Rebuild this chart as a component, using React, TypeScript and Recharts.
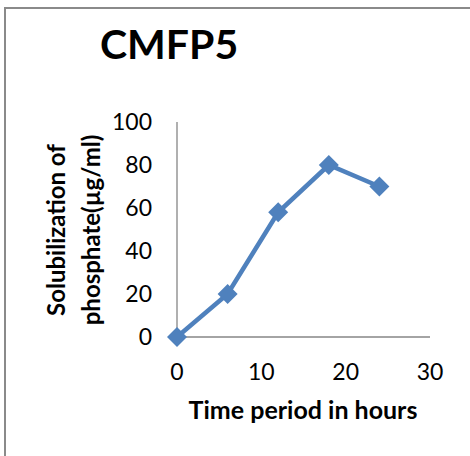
import { Line, LineChart, XAxis, YAxis, Label } from "recharts";

const hours = [0, 6, 12, 18, 24];
const solubilization = [0, 20, 58, 80, 70];
const xTicks = [0, 10, 20, 30];
const yTicks = [0, 20, 40, 60, 80, 100];

const data = hours.map((h, i) => ({ hour: h, value: solubilization[i] }));

const BLUE = "#4F81BD";
const AXIS = "#868686";
const FONT = "Lato, 'Open Sans', sans-serif";

// diamond marker like Excel's
const Diamond = (p: any) => {
  const { cx, cy, index } = p;
  if (cx == null || cy == null) return <g key={index} />;
  const r = 10;
  return (
    <polygon
      key={index}
      points={`${cx},${cy - r} ${cx + r},${cy} ${cx},${cy + r} ${cx - r},${cy}`}
      fill={BLUE}
    />
  );
};

const YLabel = () => (
  <text
    transform="translate(0,230) rotate(-90)"
    textAnchor="middle"
    fontFamily={FONT}
    fontWeight="bold"
    fontSize={24}
    fill="#000"
  >
    <tspan x={0} y={65}>Solubilization of</tspan>
    <tspan x={0} y={100}>phosphate(µg/ml)</tspan>
  </text>
);

export default function App() {
  return (
    <div style={{ position: "absolute", left: 0, top: 0, width: 470, height: 456, background: "#fff", overflow: "hidden" }}>
      <div
        style={{
          position: "absolute", left: 4, top: 7, right: -10, bottom: -10,
          borderTop: "2px solid #8a8a8a", borderLeft: "2px solid #8a8a8a",
        }}
      />
      <div
        style={{
          position: "absolute", left: 100, top: 21, fontFamily: FONT, fontWeight: "bold",
          fontSize: 41, lineHeight: "46px", color: "#000",
        }}
      >
        CMFP5
      </div>
      <div style={{ position: "absolute", left: 0, top: 0 }}>
        <LineChart width={470} height={456} data={data} margin={{ top: 122, right: 40, left: 97, bottom: 69 }}>
          <XAxis
            dataKey="hour"
            type="number"
            domain={[0, 30]}
            ticks={xTicks}
            axisLine={{ stroke: AXIS, strokeWidth: 1.3 }}
            tickLine={false}
            tickSize={0}
            tickMargin={27}
            height={50}
            tick={{ fill: "#000", fontSize: 23, fontFamily: FONT }}
          >
            <Label
              value="Time period in hours"
              position="bottom"
              offset={0}
              content={() => (
                <text x={303} y={419} textAnchor="middle" fontFamily={FONT} fontWeight="bold" fontSize={25} fill="#000">
                  Time period in hours
                </text>
              )}
            />
          </XAxis>
          <YAxis
            type="number"
            domain={[0, 100]}
            ticks={yTicks}
            width={80}
            axisLine={{ stroke: AXIS, strokeWidth: 1.3 }}
            tickLine={false}
            tickSize={0}
            tickMargin={25}
            tick={{ fill: "#000", fontSize: 23, fontFamily: FONT }}
          >
            <Label content={() => <YLabel />} />
          </YAxis>
          <Line
            type="linear"
            dataKey="value"
            stroke={BLUE}
            strokeWidth={4.5}
            dot={Diamond}
            activeDot={false}
            isAnimationActive={false}
          />
        </LineChart>
      </div>
    </div>
  );
}
